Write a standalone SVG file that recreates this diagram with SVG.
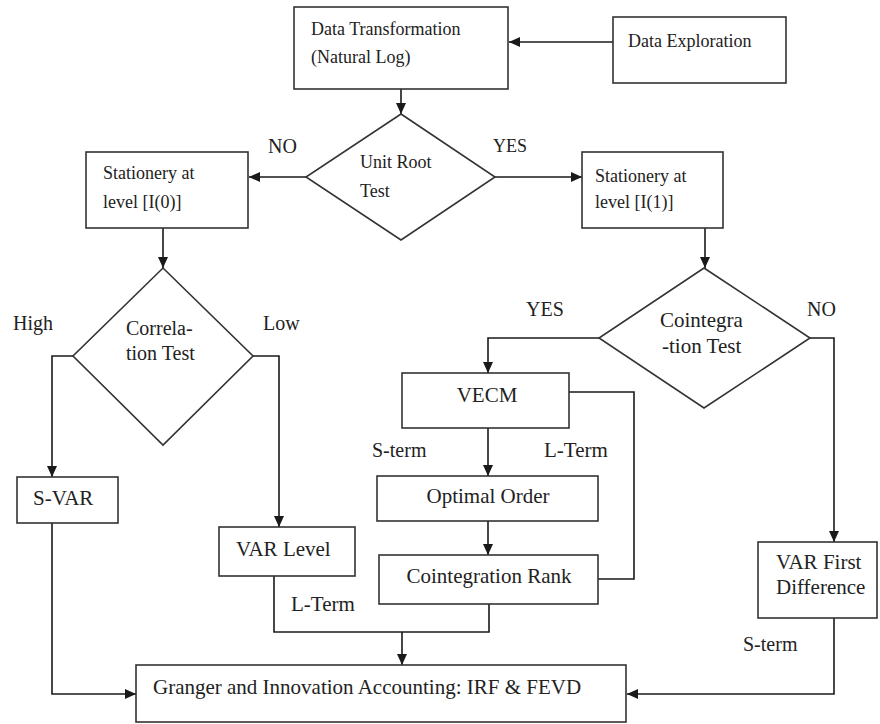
<svg xmlns="http://www.w3.org/2000/svg" width="880" height="724" viewBox="0 0 880 724">
<defs>
<marker id="ah" markerUnits="userSpaceOnUse" markerWidth="12" markerHeight="10" refX="11" refY="5" orient="auto">
<path d="M0,0 L11,5 L0,10 Z" fill="#1a1a1a"/>
</marker>
<style>
.box{fill:#fff;stroke:#333;stroke-width:1.6}
.ln{fill:none;stroke:#1a1a1a;stroke-width:1.6}
.ar{fill:none;stroke:#1a1a1a;stroke-width:1.6;marker-end:url(#ah)}
text{font-family:"Liberation Serif","Times New Roman",serif;font-size:18px;fill:#222}
.c{text-anchor:middle}
.m{font-size:20px}
.l{font-size:21px}
</style>
</defs>
<rect width="880" height="724" fill="#fff"/>
<g id="connectors">
<line class="ar" x1="613" y1="42" x2="509" y2="42"/>
<line class="ar" x1="401" y1="89" x2="401" y2="114"/>
<line class="ar" x1="306" y1="177" x2="249" y2="177"/>
<line class="ar" x1="495" y1="177" x2="582" y2="177"/>
<line class="ar" x1="163" y1="228" x2="163" y2="268"/>
<line class="ar" x1="705" y1="228" x2="705" y2="268"/>
<polyline class="ar" points="73,356 52,356 52,477"/>
<polyline class="ar" points="253,356 279,356 279,527"/>
<polyline class="ar" points="599,338 488,338 488,373"/>
<polyline class="ar" points="810,338 834,338 834,542"/>
<line class="ar" x1="488" y1="428" x2="488" y2="476"/>
<line class="ar" x1="488" y1="521" x2="488" y2="555"/>
<polyline class="ln" points="569,392 634,392 634,579 598,579"/>
<polyline class="ln" points="274,576 274,632 489,632 489,604"/>
<line class="ar" x1="402" y1="632" x2="402" y2="665"/>
<polyline class="ar" points="52,523 52,694 136,694"/>
<polyline class="ar" points="834,618 834,694 627,694"/>
</g>
<g id="data-exploration">
<rect class="box" x="613" y="17" width="173" height="66"/>
<text x="628" y="47">Data Exploration</text>
</g>
<g id="data-transformation">
<rect class="box" x="294" y="7" width="214" height="82"/>
<text x="311" y="35">Data Transformation</text>
<text x="311" y="63">(Natural Log)</text>
</g>
<g id="unit-root-test">
<polygon class="box" points="401,114 495,177 401,240 306,177"/>
<text x="360" y="168">Unit Root</text>
<text x="360" y="197">Test</text>
</g>
<g id="stationery-i0">
<rect class="box" x="86" y="152" width="162" height="76"/>
<text x="103" y="179">Stationery at</text>
<text x="103" y="208">level [I(0)]</text>
</g>
<g id="stationery-i1">
<rect class="box" x="582" y="152" width="141" height="76"/>
<text x="595" y="182">Stationery at</text>
<text x="595" y="208">level [I(1)]</text>
</g>
<g id="correlation-test">
<polygon class="box" points="163,268 253,356 163,445 73,356"/>
<text class="m" x="126" y="335">Correla-</text>
<text class="m" x="126" y="360">tion Test</text>
</g>
<g id="cointegration-test">
<polygon class="box" points="704,268 810,338 704,408 599,338"/>
<text class="l" x="660" y="327">Cointegra</text>
<text class="l" x="662" y="353">-tion Test</text>
</g>
<g id="vecm">
<rect class="box" x="402" y="373" width="167" height="55"/>
<text class="l c" x="487" y="402">VECM</text>
</g>
<g id="optimal-order">
<rect class="box" x="377" y="476" width="221" height="45"/>
<text class="l c" x="488" y="503">Optimal Order</text>
</g>
<g id="cointegration-rank">
<rect class="box" x="379" y="555" width="219" height="49"/>
<text class="l c" x="489" y="583">Cointegration Rank</text>
</g>
<g id="s-var">
<rect class="box" x="17" y="477" width="101" height="46"/>
<text class="l" x="33" y="505">S-VAR</text>
</g>
<g id="var-level">
<rect class="box" x="219" y="527" width="136" height="49"/>
<text class="l" x="236" y="556">VAR Level</text>
</g>
<g id="var-first-difference">
<rect class="box" x="758" y="542" width="119" height="76"/>
<text class="l" x="776" y="569">VAR First</text>
<text class="l" x="776" y="594">Difference</text>
</g>
<g id="granger">
<rect class="box" x="136" y="665" width="490" height="57"/>
<text class="l" x="153" y="694">Granger and Innovation Accounting: IRF &amp; FEVD</text>
</g>
<g id="labels">
<text class="m" x="268" y="153">NO</text>
<text x="493" y="152">YES</text>
<text class="m" x="13" y="330">High</text>
<text class="m" x="263" y="330">Low</text>
<text class="m" x="526" y="316">YES</text>
<text class="m" x="807" y="316">NO</text>
<text class="m" x="372" y="457">S-term</text>
<text class="l" x="544" y="457">L-Term</text>
<text class="l" x="291" y="611">L-Term</text>
<text class="m" x="743" y="651">S-term</text>
</g>
</svg>
